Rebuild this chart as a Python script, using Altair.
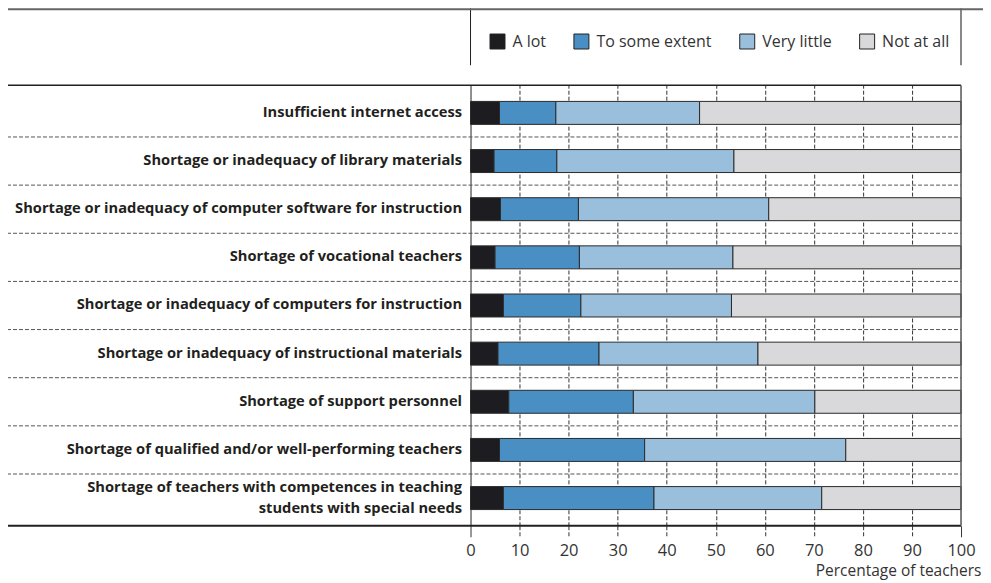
import altair as alt
import pandas as pd

categories = [
    "Insufficient internet access",
    "Shortage or inadequacy of library materials",
    "Shortage or inadequacy of computer software for instruction",
    "Shortage of vocational teachers",
    "Shortage or inadequacy of computers for instruction",
    "Shortage or inadequacy of instructional materials",
    "Shortage of support personnel",
    "Shortage of qualified and/or well-performing teachers",
    "Shortage of teachers with competences in teaching|students with special needs",
]
responses = ["A lot", "To some extent", "Very little", "Not at all"]
a_lot = [5.9, 4.8, 6.1, 5.0, 6.7, 5.6, 7.8, 5.9, 6.7]
to_some_extent = [11.5, 12.8, 15.9, 17.2, 15.8, 20.6, 25.4, 29.6, 30.7]
very_little = [29.3, 36.1, 38.8, 31.3, 30.7, 32.4, 37.0, 41.0, 34.2]
not_at_all = [53.3, 46.3, 39.2, 46.5, 46.8, 41.4, 29.8, 23.5, 28.4]
colors = ["#1d1c21", "#4a8fc4", "#9abfdd", "#d9d9db"]
x_ticks = list(range(0, 101, 10))

series = [a_lot, to_some_extent, very_little, not_at_all]
rows = []
for k, (resp, vals) in enumerate(zip(responses, series)):
    for cat, v in zip(categories, vals):
        rows.append({"category": cat, "response": resp, "value": v, "order": k})
df = pd.DataFrame(rows)

W, H = 491, 441
FONT = "Open Sans"
yscale = alt.Scale(domain=categories, paddingInner=0, paddingOuter=0.075)
edge_test = "datum.value == 0 || datum.value == 100"

bars = alt.Chart(df).mark_bar(size=23, stroke="#2a2a2a", strokeWidth=1).encode(
    y=alt.Y("category:N", sort=categories, scale=yscale, title=None,
            axis=alt.Axis(domain=True, domainColor="#231f20", domainWidth=1,
                          ticks=False, grid=False, labelFontSize=14.7,
                          labelFontWeight="bold", labelColor="#231f20",
                          labelPadding=9, labelLimit=0, labelLineHeight=21,
                          labelOffset={"condition": {"test": "indexof(datum.value, '|') >= 0",
                                                     "value": -10}, "value": 0},
                          labelExpr="split(datum.label, '|')")),
    x=alt.X("value:Q", stack="zero",
            scale=alt.Scale(domain=[0, 100], nice=False),
            axis=alt.Axis(values=x_ticks, grid=True, gridDash=[4, 2],
                          gridColor="#333333", gridWidth=1,
                          gridOpacity={"condition": {"test": edge_test, "value": 0}, "value": 1},
                          domain=False, ticks=True, tickSize=11, tickColor="#333333",
                          tickDash={"condition": {"test": edge_test, "value": []}, "value": [4, 2]},
                          labelFontSize=16.5, labelColor="#333333", labelPadding=6,
                          labelFlush=False, labelOverlap=False,
                          title="Percentage of teachers", titleFontSize=15.5,
                          titleFontWeight="normal", titleColor="#333333",
                          titleAnchor="end", titleAlign="right", titleX=511, titleY=50,
                          titleBaseline="alphabetic")),
    color=alt.Color("response:N", scale=alt.Scale(domain=responses, range=colors),
                    legend=alt.Legend(orient="none", legendX=19, legendY=-52,
                                      direction="horizontal", title=None,
                                      symbolType="square", symbolSize=225,
                                      symbolStrokeColor="#222222", symbolStrokeWidth=1,
                                      labelFontSize=16, labelColor="#333333",
                                      labelOffset=7, columnPadding=25)),
    order=alt.Order("order:Q"),
)

sep = alt.Chart(pd.DataFrame({"category": categories[1:]})).mark_rule(
    strokeDash=[4, 2], color="#555555", strokeWidth=1).encode(
    y=alt.Y("category:N", sort=categories, scale=yscale, bandPosition=0),
    x=alt.value(-464), x2=alt.value(W))

dummy = pd.DataFrame({"a": [0]})

def hline(y, x1, x2, color, w):
    return alt.Chart(dummy).mark_rule(color=color, strokeWidth=w).encode(
        y=alt.value(y), x=alt.value(x1), x2=alt.value(x2))

def vline(x, y1, y2, color, w):
    return alt.Chart(dummy).mark_rule(color=color, strokeWidth=w).encode(
        x=alt.value(x), y=alt.value(y1), y2=alt.value(y2))

frame = [
    hline(0, -471, W, "#231f20", 1.5),
    hline(H, -466, W, "#231f20", 2.2),
    vline(W, 0, H, "#555555", 1.5),
    vline(0, -77, -20, "#231f20", 1),
    vline(W, -77, -20, "#888888", 2),
    hline(-76, -471, W + 40, "#666666", 2),
]

chart = alt.layer(sep, bars, *frame).properties(
    width=W, height=H,
    autosize=alt.AutoSizeParams(type="none"),
    padding={"left": 463, "top": 77, "right": 22, "bottom": 55},
).configure(font=FONT).configure_view(stroke=None)

chart.save("out.html", embed_options={"renderer": "svg", "actions": False})
